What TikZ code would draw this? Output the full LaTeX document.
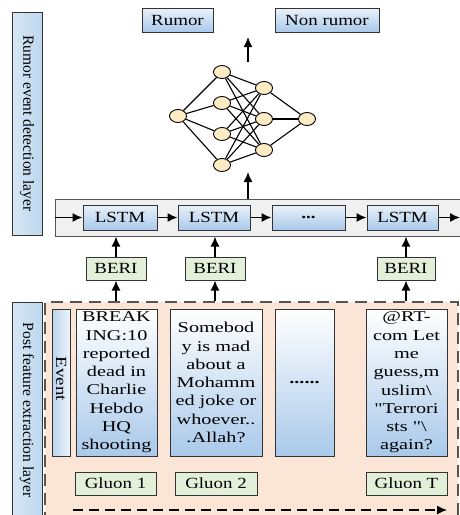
\documentclass[tikz,border=0pt]{standalone}
\usepackage{fontspec}
\setmainfont{Liberation Serif}[FakeStretch=1.22]
\newfontfamily\sidefont{Liberation Serif}
\newfontfamily\tweetfont{Liberation Serif}[FakeStretch=1.35]
\usetikzlibrary{arrows.meta,shapes.geometric}
\definecolor{framegray}{HTML}{333333}
\definecolor{dashgray}{HTML}{555555}
\definecolor{cellblue}{HTML}{A9C9EA}
\definecolor{sideblue}{HTML}{BDD7EE}
\definecolor{berigreen}{HTML}{E2EFD9}
\definecolor{bandgray}{HTML}{F0F0F0}
\definecolor{postpeach}{HTML}{FBE5D6}
\definecolor{neuronfill}{HTML}{FDEBC4}

\begin{document}
\begin{tikzpicture}[
		x=1pt,y=-1pt,
		every node/.style={font=\fontsize{15.5}{18.3}\selectfont,inner sep=0pt,align=center},
		sidebox/.style={draw=framegray,line width=1pt,left color=sideblue!60,right color=sideblue,
			rotate=-90,minimum height=30,font=\sidefont\fontsize{15.5}{18}\selectfont},
		cellbox/.style={draw=framegray,line width=1pt,top color=white,bottom color=cellblue},
		lstmbox/.style={cellbox,top color=cellblue!25,minimum height=25},
		tweetbox/.style={cellbox,minimum height=147,font=\tweetfont\fontsize{15}{18.3}\selectfont},
		greenbox/.style={draw=framegray,line width=1pt,fill=berigreen,minimum height=23},
		neuron/.style={ellipse,draw=black,line width=0.9pt,fill=neuronfill,minimum width=17,minimum height=13},
		wire/.style={line width=1.1pt,black},
		flow/.style={-{Latex[length=10pt,width=9pt]},line width=1.4pt,black}
		]
		\useasboundingbox (0,0) rectangle (460,515);

		\node[sidebox,minimum width=223] (toplayer) at (27,123.5) {Rumor event detection layer};
		\node[sidebox,minimum width=216] (botlayer) at (27,410) {Post feature extraction layer};

		\node[cellbox,top color=cellblue!25,minimum width=71,minimum height=24] (rumor) at (177.5,20) {Rumor};
		\node[cellbox,top color=cellblue!25,minimum width=104,minimum height=24] (nonrumor) at (327,20) {Non rumor};

		\node[neuron] (in) at (178,116) {};
		\node[neuron] (h1) at (222,72) {};
		\node[neuron] (h2) at (222,103) {};
		\node[neuron] (h3) at (222,134) {};
		\node[neuron] (h4) at (222,165) {};
		\node[neuron] (g1) at (264,88) {};
		\node[neuron] (g2) at (264,119) {};
		\node[neuron] (g3) at (264,150) {};
		\node[neuron] (out) at (307,119) {};
		\foreach \i in {1,...,4} {
			\draw[wire] (in) -- (h\i);
			\foreach \j in {1,2,3}
				\draw[wire] (h\i) -- (g\j);
		}
		\foreach \j in {1,2,3}
			\draw[wire] (g\j) -- (out);

		\coordinate (nettop) at (248,62);
		\coordinate (outtip) at (248,37);
		\coordinate (netin) at (248,172);
		\draw[flow] (nettop) -- (outtip);

		\node[draw=dashgray,line width=1pt,fill=bandgray,minimum width=407,minimum height=37] (band) at (258.5,217.5) {};
		\node[lstmbox,minimum width=74] (lstm1) at (120,217.5) {LSTM};
		\node[lstmbox,minimum width=72] (lstm2) at (214,217.5) {LSTM};
		\node[lstmbox,minimum width=73] (lstmdots) at (308.5,217.5) {\textbf{...}};
		\node[lstmbox,minimum width=71] (lstmT) at (402.5,217.5) {LSTM};
		\coordinate (bandout) at (460,217.5);

		\draw[flow] (band.west |- lstm1) -- (lstm1);
		\draw[flow] (lstm1) -- (lstm2);
		\draw[flow] (lstm2) -- (lstmdots);
		\draw[flow] (lstmdots) -- (lstmT);
		\draw[flow] (lstmT) -- (bandout);
		\draw[flow] (netin |- band.north) -- (netin);

		\node[greenbox,minimum width=60] (beri1) at (116,268.5) {BERI};
		\node[greenbox,minimum width=60] (beri2) at (215,268.5) {BERI};
		\node[greenbox,minimum width=58] (beriT) at (406,268.5) {BERI};
		\foreach \b in {beri1,beri2,beriT}
			\draw[flow] (\b) -- (\b |- band.south);

		\node[fill=postpeach,draw=dashgray,line width=2.2pt,dash pattern=on 12pt off 7pt,
			minimum width=413,minimum height=218] (area) at (251.5,411) {};
		\foreach \b in {beri1,beri2,beriT}
			\draw[flow] (\b |- area.north) -- (\b);

		\node[cellbox,left color=cellblue!80,right color=cellblue!20,minimum width=18,minimum height=147] (event) at (61,382.5) {};
		\node[rotate=-90] (eventtext) at (61,379) {Event};
		\node[tweetbox,minimum width=81] (post1) at (116.5,382.5)
			{BREAK\\ING:10\\reported\\dead in\\Charlie\\Hebdo\\HQ\\shooting};
		\node[tweetbox,minimum width=92] (post2) at (216,382.5)
			{Somebod\\y is mad\\about a\\Mohamm\\ed joke or\\whoever..\\.Allah?};
		\node[tweetbox,minimum width=59] (postdots) at (304.5,382.5) {\textbf{......}};
		\node[tweetbox,minimum width=81] (postT) at (406.5,382.5)
			{@RT-\\com Let\\me\\guess,m\\uslim\textbackslash\\"Terrori\\sts "\textbackslash\\again?};

		\node[greenbox,minimum width=81] (gluon1) at (115.5,483.5) {Gluon 1};
		\node[greenbox,minimum width=82] (gluon2) at (216,483.5) {Gluon 2};
		\node[greenbox,minimum width=81] (gluonT) at (406.5,483.5) {Gluon T};

		\coordinate (timestart) at (73,510);
		\coordinate (timeend) at (447,510);
		\draw[flow,line width=1.3pt,dash pattern=on 10pt off 6pt] (timestart) -- (timeend);
	\end{tikzpicture}
\end{document}
